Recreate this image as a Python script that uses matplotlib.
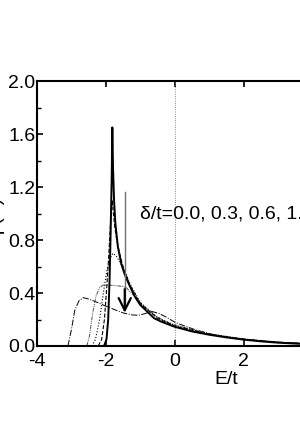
import numpy as np
import matplotlib
matplotlib.use("Agg")
import matplotlib.pyplot as plt

plt.rcParams['font.family'] = ['Liberation Sans', 'DejaVu Sans']
plt.rcParams['axes.unicode_minus'] = False

# densidad de estados para cada delta/t
E_d00 = [-2.05, -1.98, -1.93, -1.89, -1.86, -1.83, -1.81, -1.79, -1.76, -1.72, -1.65, -1.55,
         -1.45, -1.3, -1.15, -1.0, -0.8, -0.6, -0.4, -0.2, 0.0, 0.5, 1.0, 1.5, 2.0, 2.5, 3.0, 3.6, 4.5, 6.0, 7.0]
g_d00 = [0.0, 0.05, 0.2, 0.5, 0.85, 1.25, 1.65, 1.35, 1.1, 0.92, 0.75, 0.62,
         0.54, 0.45, 0.37, 0.31, 0.26, 0.21, 0.185, 0.165, 0.145, 0.11, 0.085, 0.065, 0.048, 0.035, 0.025, 0.017, 0.01, 0.004, 0.002]

E_d03 = [-2.22, -2.12, -2.04, -1.97, -1.91, -1.86, -1.81, -1.78, -1.74, -1.68, -1.6, -1.5,
         -1.4, -1.3, -1.0, -0.5, 0.0, 1.0, 2.0, 3.0, 4.0, 5.5, 7.0]
g_d03 = [0.0, 0.05, 0.2, 0.45, 0.7, 0.95, 1.1, 1.0, 0.9, 0.8, 0.7, 0.6,
         0.53, 0.46, 0.32, 0.21, 0.15, 0.088, 0.05, 0.027, 0.014, 0.006, 0.002]

E_d06 = [-2.4, -2.3, -2.18, -2.07, -1.96, -1.86, -1.79, -1.7, -1.6, -1.5, -1.4, -1.3,
         -1.0, -0.5, 0.0, 1.0, 2.0, 3.0, 4.0, 5.5, 7.0]
g_d06 = [0.0, 0.05, 0.2, 0.4, 0.58, 0.67, 0.70, 0.68, 0.64, 0.59, 0.54, 0.47,
         0.33, 0.215, 0.155, 0.09, 0.052, 0.028, 0.015, 0.006, 0.002]

E_d10 = [-2.55, -2.47, -2.38, -2.28, -2.18, -2.08, -1.9, -1.7, -1.5, -1.4, -1.3, -1.1,
         -0.9, -0.6, -0.3, 0.0, 1.0, 2.0, 3.0, 4.0, 5.5, 7.0]
g_d10 = [0.0, 0.08, 0.25, 0.38, 0.44, 0.46, 0.46, 0.455, 0.45, 0.44, 0.41, 0.36,
         0.30, 0.235, 0.19, 0.16, 0.092, 0.054, 0.03, 0.016, 0.007, 0.003]

E_d15 = [-3.1, -3.0, -2.9, -2.78, -2.66, -2.5, -2.3, -2.08, -1.8, -1.5, -1.25, -1.05,
         -0.85, -0.68, -0.45, -0.24, 0.0, 0.3, 0.63, 1.0, 1.3, 2.0, 2.6, 3.2, 4.0, 5.5, 7.0]
g_d15 = [0.0, 0.12, 0.27, 0.34, 0.365, 0.355, 0.335, 0.31, 0.28, 0.25, 0.235, 0.232,
         0.245, 0.262, 0.245, 0.217, 0.18, 0.15, 0.12, 0.095, 0.075, 0.052, 0.037, 0.026, 0.016, 0.007, 0.003]

fig = plt.figure(figsize=(3.0, 4.28), dpi=100)
ax = fig.add_axes([0.123, 0.1916, 1.263, 0.619])

ax.axvline(0, color='0.4', lw=0.6, ls=':')
ax.plot(E_d15, g_d15, color='k', lw=0.7, ls='-.')
ax.plot(E_d10, g_d10, color='0.3', lw=0.7, ls=(0, (4, 1, 1, 1, 1, 1)))
ax.plot(E_d06, g_d06, color='k', lw=0.8, ls=':')
ax.plot(E_d03, g_d03, color='k', lw=0.8, ls='--')
ax.plot(E_d00, g_d00, color='k', lw=1.4)

# flecha
ax.plot([-1.45, -1.45], [1.16, 0.3], color='0.45', lw=1.0)
ax.annotate('', xy=(-1.45, 0.23), xytext=(-1.45, 0.45),
            arrowprops=dict(arrowstyle='->', color='k', lw=1.6, mutation_scale=22))

ax.text(-1.0, 1.0, 'δ/t=0.0, 0.3, 0.6, 1.0, 1.5', fontsize=14, va='center', ha='left')

ax.set_xlim(-4, 7)
ax.set_ylim(0, 2.0)
ax.set_xticks([-4, -2, 0, 2, 4, 6])
ax.set_yticks([0.0, 0.4, 0.8, 1.2, 1.6, 2.0])
ax.set_yticks(np.arange(0.2, 2.0, 0.4), minor=True)
ax.set_yticklabels(['0.0', '0.4', '0.8', '1.2', '1.6', '2.0'])
ax.tick_params(axis='x', direction='in', top=True, labelsize=14, length=4, width=1.2, pad=5)
ax.tick_params(axis='y', direction='in', right=True, labelsize=14, length=4, width=1.2, pad=1)
ax.tick_params(which='minor', direction='in', right=True, length=3, width=1.0)
for s in ax.spines.values():
    s.set_linewidth(1.5)

ax.set_xlabel('E/t', fontsize=14, labelpad=1)
fig.text(0.012, 0.5, 'ρ(E)', rotation=90, fontsize=14, ha='right', va='center')

plt.savefig('out.png', dpi=100)
